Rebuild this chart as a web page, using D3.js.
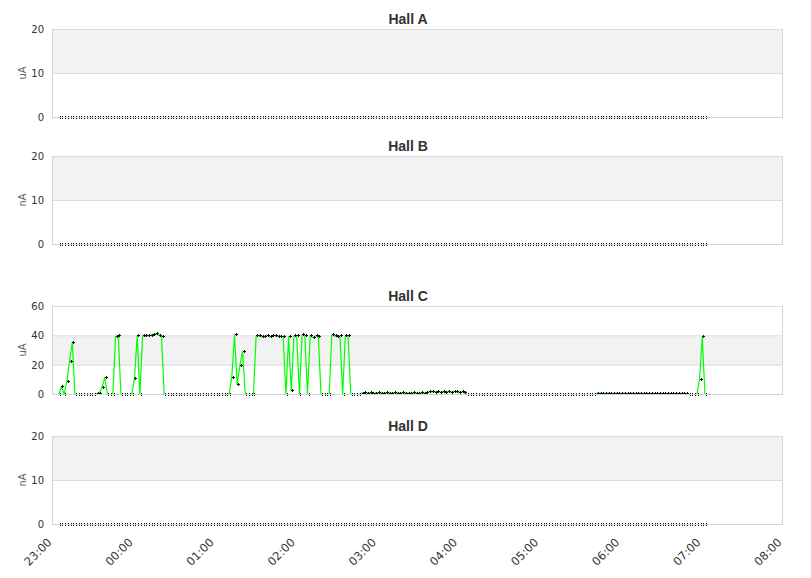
<!DOCTYPE html>
<html>
<head>
<meta charset="utf-8">
<script src="https://cdn.jsdelivr.net/npm/d3@7/dist/d3.min.js"></script>
<style>
  html, body { margin: 0; padding: 0; background: #fff; }
  svg { display: block; }
</style>
</head>
<body>
<svg id="chart" width="811" height="578"></svg>
<script>
// ---------------- DATA ----------------
const xTickLabels = ["23:00","00:00","01:00","02:00","03:00","04:00","05:00","06:00","07:00","08:00"];
const sampleStart = "23:05";      // first sample time
const sampleStepMinutes = 2;      // sampling interval

const hallTitles = ["Hall A", "Hall B", "Hall C", "Hall D"];
const hallUnits = ["uA", "nA", "uA", "nA"];
const yTicksA = [0, 10, 20];
const yTicksB = [0, 10, 20];
const yTicksC = [0, 20, 40, 60];
const yTicksD = [0, 10, 20];

// Halls A, B and D read 0 at every sample
const hallAValues = [
0,0,0,0,0,0,0,0,0,0, 0,0,0,0,0,0,0,0,0,0, 0,0,0,0,0,0,0,0,0,0, 0,0,0,0,0,0,0,0,0,0,
0,0,0,0,0,0,0,0,0,0, 0,0,0,0,0,0,0,0,0,0, 0,0,0,0,0,0,0,0,0,0, 0,0,0,0,0,0,0,0,0,0,
0,0,0,0,0,0,0,0,0,0, 0,0,0,0,0,0,0,0,0,0, 0,0,0,0,0,0,0,0,0,0, 0,0,0,0,0,0,0,0,0,0,
0,0,0,0,0,0,0,0,0,0, 0,0,0,0,0,0,0,0,0,0, 0,0,0,0,0,0,0,0,0,0, 0,0,0,0,0,0,0,0,0,0,
0,0,0,0,0,0,0,0,0,0, 0,0,0,0,0,0,0,0,0,0, 0,0,0,0,0,0,0,0,0,0, 0,0,0,0,0,0,0,0,0,0,
0,0,0,0,0,0,0,0,0,0, 0,0,0,0,0,0,0,0,0,0, 0,0,0,0,0,0,0,0,0,0, 0,0,0,0,0,0,0,0,0,0];
const hallBValues = hallAValues.slice();
const hallDValues = hallAValues.slice();

const hallCValues = [
0, 5.5, 0, 9, 22.5, 35.5, 0, 0, 0, 0,
0, 0, 0, 0, 0.5, 1, 4.7, 11.7, 0, 0,
0, 39.3, 40.3, 0, 0, 0, 0, 0, 10.8, 40,
0, 40, 40, 40, 40.5, 40.8, 41.5, 40.5, 39.5, 0,
0, 0, 0, 0, 0, 0, 0, 0, 0, 0,
0, 0, 0, 0, 0, 0, 0, 0, 0, 0,
0, 0, 0, 0, 11.9, 40.7, 6.7, 19.8, 29.2, 0,
0, 0, 0, 40, 40, 39.5, 39.3, 40.5, 39.3, 40,
40, 39.8, 39.8, 39.3, 0, 39.3, 2.4, 40, 40, 0,
40.7, 40, 0, 40, 38.9, 40, 39.8, 0, 0, 0,
0, 40.7, 40, 39.3, 40, 0, 40, 40, 0, 0,
0, 0, 1.0, 1.1, 1.0, 1.1, 1.0, 1.0, 1.1, 1.0,
1.0, 1.1, 1.0, 1.0, 1.1, 1.0, 1.0, 1.1, 1.0, 1.0,
1.0, 1.1, 1.0, 1.0, 1.1, 1.0, 1.3, 1.8, 1.9, 1.6,
2.0, 1.7, 1.9, 1.5, 2.1, 1.6, 1.9, 2.0, 1.5, 1.8,
1.2, 0, 0, 0, 0, 0, 0, 0, 0, 0,
0, 0, 0, 0, 0, 0, 0, 0, 0, 0,
0, 0, 0, 0, 0, 0, 0, 0, 0, 0,
0, 0, 0, 0, 0, 0, 0, 0, 0, 0,
0, 0, 0, 0, 0, 0, 0, 0, 0, 0.8,
0.8, 0.7, 0.8, 0.8, 0.7, 0.8, 0.8, 0.7, 0.8, 0.8,
0.7, 0.8, 0.8, 0.7, 0.8, 0.8, 0.7, 0.8, 0.8, 0.7,
0.8, 0.8, 0.7, 0.8, 0.8, 0.7, 0.8, 0.8, 0.7, 0.8,
0.8, 0.7, 0.8, 0, 0, 0, 0, 10.5, 39.3, 0];

// ---------------- LAYOUT ----------------
const plotLeft = 52, plotRight = 782, plotH = 88;
const panelTops = [29, 156, 306, 436];
const valuesList = [hallAValues, hallBValues, hallCValues, hallDValues];
const tickList = [yTicksA, yTicksB, yTicksC, yTicksD];

const parseHM = d3.timeParse("%Y-%m-%d %H:%M");
const t0 = parseHM("2020-01-01 23:00");
const t1 = parseHM("2020-01-02 08:00");
const tStart = parseHM("2020-01-01 " + sampleStart);
const times = hallCValues.map((_, i) => d3.timeMinute.offset(tStart, i * sampleStepMinutes));
const hourTicks = xTickLabels.map((_, i) => d3.timeHour.offset(t0, i));

const x = d3.scaleTime().domain([t0, t1]).range([plotLeft, plotRight]);

const svg = d3.select("#chart");
const FONT = "'DejaVu Sans', sans-serif";

panelTops.forEach((top, p) => {
  const ticks = tickList[p];
  const yMax = ticks[ticks.length - 1];
  const y = d3.scaleLinear().domain([0, yMax]).range([top + plotH + 0.5, top + 0.5]);
  const g = svg.append("g");

  // alternate bands
  for (let b = 0; b < ticks.length - 1; b++) {
    if (b % 2 === 1) {
      g.append("rect")
        .attr("x", plotLeft + 0.5).attr("width", plotRight - plotLeft)
        .attr("y", y(ticks[b + 1])).attr("height", y(ticks[b]) - y(ticks[b + 1]))
        .attr("fill", "#f2f2f2");
    }
  }
  // grid lines
  g.selectAll("line.grid").data(ticks.slice(1)).join("line")
    .attr("x1", plotLeft).attr("x2", plotRight + 0.5)
    .attr("y1", d => y(d)).attr("y2", d => y(d))
    .attr("stroke", "#dcdcdc").attr("stroke-width", 1);

  // green series line
  const clipId = "clip" + p;
  svg.append("clipPath").attr("id", clipId).append("rect")
    .attr("x", plotLeft).attr("y", top).attr("width", plotRight - plotLeft).attr("height", plotH + 1);
  const vals = valuesList[p];
  const line = d3.line().x((d, i) => x(times[i])).y(d => y(d));
  g.append("path").datum(vals)
    .attr("clip-path", `url(#${clipId})`)
    .attr("d", line).attr("fill", "none")
    .attr("stroke", "#00ff00").attr("stroke-width", 1.2).attr("stroke-linejoin", "round");

  // markers (+)
  g.selectAll("path.mk").data(vals).join("path")
    .attr("transform", (d, i) => `translate(${Math.round(x(times[i])) + 0.5},${Math.round(y(d) - 0.5) + 0.5})`)
    .attr("d", "M-1,0H2M0.5,-1.5V1.5")
    .attr("stroke", "#111").attr("stroke-width", 1).attr("fill", "none")
    .attr("shape-rendering", "crispEdges");

  // frame: left, right, bottom (drawn over the markers)
  g.append("line").attr("x1", plotLeft + 0.5).attr("x2", plotLeft + 0.5)
    .attr("y1", top).attr("y2", top + plotH + 1).attr("stroke", "#d4d4d4");
  g.append("line").attr("x1", plotRight + 0.5).attr("x2", plotRight + 0.5)
    .attr("y1", top).attr("y2", top + plotH + 1).attr("stroke", "#d4d4d4");
  g.append("line").attr("x1", plotLeft).attr("x2", plotRight + 1)
    .attr("y1", y(0)).attr("y2", y(0)).attr("stroke", "#d4d4d4");

  // y tick labels
  g.selectAll("text.yt").data(ticks).join("text")
    .attr("x", 44).attr("y", d => y(d)).attr("dy", "0.35em")
    .attr("text-anchor", "end")
    .attr("font-family", FONT).attr("font-size", 10).attr("fill", "#333")
    .text(d => d);

  // unit label
  g.append("text")
    .attr("transform", `translate(26,${top + plotH / 2}) rotate(-90)`)
    .attr("text-anchor", "middle")
    .attr("font-family", FONT).attr("font-size", 10).attr("fill", "#666")
    .text(hallUnits[p]);

  // title
  g.append("text")
    .attr("x", 408).attr("y", top - 5)
    .attr("text-anchor", "middle")
    .attr("font-family", "'Liberation Sans', Arial, sans-serif")
    .attr("font-weight", "bold").attr("font-size", 14).attr("fill", "#333")
    .text(hallTitles[p]);
});

// x axis labels (bottom only)
const xAxisY = panelTops[3] + plotH;
svg.selectAll("text.xt").data(hourTicks).join("text")
  .attr("transform", (d, i) => `translate(${x(d) + 0.5},${xAxisY + 19}) rotate(-45)`)
  .attr("text-anchor", "end")
  .attr("font-family", FONT).attr("font-size", 11.5).attr("fill", "#333")
  .text((d, i) => xTickLabels[i]);
</script>
</body>
</html>
